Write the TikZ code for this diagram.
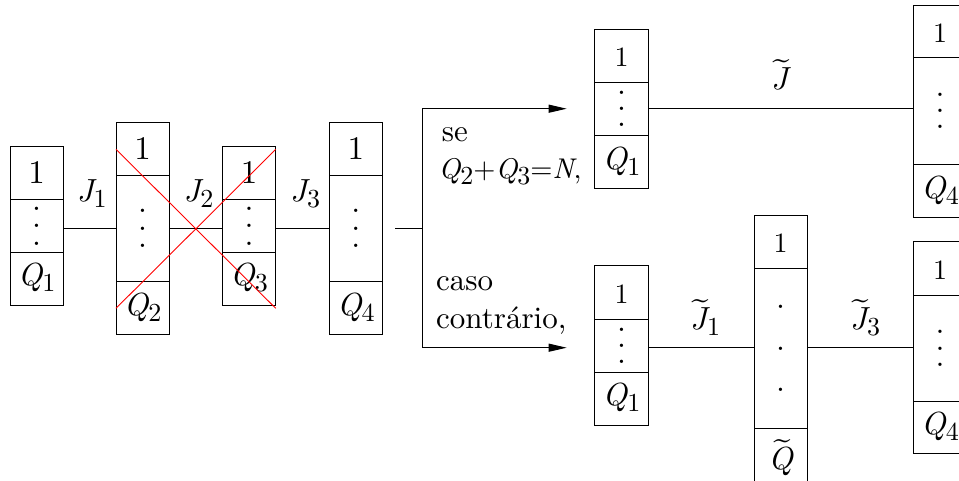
\documentclass[tikz,border=0pt]{standalone}
\usepackage{fontspec}
\setmainfont{lmroman10-regular.otf}[ItalicFont=lmroman10-italic.otf,BoldFont=lmroman10-bold.otf]
\usepackage{graphicx}
\usetikzlibrary{arrows.meta}
\newcommand\lowsub[1]{\raisebox{-6pt}{\fontsize{26}{26}\selectfont\upshape #1}}
\newcommand\mydots[1]{\vbox{\baselineskip=#1\lineskiplimit=-100pt\lineskip=0pt\hbox{.}\hbox{.}\hbox{.}}}
\newcommand\mytld[1]{\leavevmode\setbox0\hbox{#1}\setbox2\hbox{\upshape\scalebox{1.6}[1.1]{\char"02DC}}\rlap{\hbox to\wd0{\hss\kern3pt\raisebox{\dimexpr\ht0+8pt-\ht2\relax}[0pt][0pt]{\copy2}\hss}}\box0}
\begin{document}
\begin{tikzpicture}[x=1pt,y=-1pt,
  every node/.append style={font=\fontsize{32}{38}\selectfont},
  cell/.style={draw, line width=1pt, minimum width=53.3pt, inner sep=0pt},
  one/.style={font=\fontsize{33}{38}\selectfont, text height=21.4pt, text depth=0pt},
  ones/.style={font=\fontsize{28}{32}\selectfont, text height=22.6pt, text depth=0pt},
  qq/.style={font=\fontsize{32}{38}\selectfont\itshape, text height=21pt, text depth=6.4pt},
  lbl/.style={anchor=base west, inner sep=0pt},
  txt/.style={lbl, font=\fontsize{31}{36}\selectfont},
  wire/.style={line width=1pt},
  arr/.style={wire, -{Triangle[length=18pt,width=8pt]}},
  cross/.style={draw=red, line width=0.9pt}]
\useasboundingbox (0,0) rectangle (959,480);
\clip (0,0) rectangle (959,480);
% column A
\node[cell,one,minimum height=53.3pt] (A1) at (36.65,172.65) {1};
\node[cell,minimum height=53pt] (A2) at (36.65,225.8) {\mydots{17.5pt}};
\node[cell,qq,minimum height=52.7pt] (A3) at (36.65,278.65) {Q\lowsub{1}};
% column B
\node[cell,one,minimum height=53pt] (B1) at (142.65,148.8) {1};
\node[cell,minimum height=106.4pt] (B2) at (142.65,228.5) {\mydots{17.5pt}};
\node[cell,qq,minimum height=52.6pt] (B3) at (142.65,308) {Q\lowsub{2}};
% column C
\node[cell,one,minimum height=53.3pt] (C1) at (249,172.65) {1};
\node[cell,minimum height=53pt] (C2) at (249,225.8) {\mydots{17.5pt}};
\node[cell,qq,minimum height=52.7pt] (C3) at (249,278.65) {Q\lowsub{3}};
% column D
\node[cell,one,minimum height=53pt] (D1) at (355.8,148.8) {1};
\node[cell,minimum height=106.4pt] (D2) at (355.8,228.5) {\mydots{17.5pt}};
\node[cell,qq,minimum height=52.6pt] (D3) at (355.8,308) {Q\lowsub{4}};
% column E
\node[cell,ones,minimum height=53pt] (E1) at (621.5,55.5) {1};
\node[cell,minimum height=53.3pt] (E2) at (621.5,108.65) {\mydots{16.3pt}};
\node[cell,qq,minimum height=53.4pt] (E3) at (621.5,162) {Q\lowsub{1}};
% column F
\node[cell,ones,minimum height=52.7pt] (F1) at (940,31.35) {1};
\node[cell,minimum height=106.3pt] (F2) at (940,110.85) {\mydots{16.3pt}};
\node[cell,qq,minimum height=53.7pt] (F3) at (940,190.85) {Q\lowsub{4}};
% column G
\node[cell,ones,minimum height=53.3pt] (G1) at (621.5,292.35) {1};
\node[cell,minimum height=53.3pt] (G2) at (621.5,345.65) {\mydots{16.3pt}};
\node[cell,qq,minimum height=52.7pt] (G3) at (621.5,398.65) {Q\lowsub{1}};
% column H
\node[cell,ones,minimum height=53.3pt] (H1) at (780.65,241.65) {1};
\node[cell,minimum height=160pt] (H2) at (780.65,348.3) {\mydots{41.7pt}};
\node[cell,minimum height=53.3pt,text height=30pt,text depth=0pt] (H3) at (780.65,454.95) {\mytld{\itshape Q}};
% column I
\node[cell,ones,minimum height=53.3pt] (I1) at (940,268.35) {1};
\node[cell,minimum height=106.7pt] (I2) at (940,348.35) {\mydots{16.3pt}};
\node[cell,qq,minimum height=51.6pt] (I3) at (940,427.5) {Q\lowsub{4}};
% labels
\node[lbl] (J1) at (76.7,201) {\itshape J\lowsub{1}};
\node[lbl] (J2) at (183.3,201) {\itshape J\lowsub{2}};
\node[lbl] (J3) at (290,201) {\itshape J\lowsub{3}};
\node[txt] (se) at (441.7,141.7) {se};
\node[txt,font=\fontsize{28.5}{34}\selectfont] (cond) at (438.3,178) {\itshape Q\lowsub{2}\upshape+\itshape Q\lowsub{3}\upshape=\itshape N\upshape,};
\node[txt] (caso) at (436,290) {caso};
\node[txt] (contr) at (436,328.3) {contrário,};
\node[lbl] (Jt) at (771,89) {\mytld{\itshape J}};
\node[lbl] (Jt1) at (690,329) {\mytld{\itshape J}\lowsub{1}};
\node[lbl] (Jt3) at (850,329) {\mytld{\itshape J}\lowsub{3}};
% connectors
\draw[wire] (A2.east |- B2) -- (B2.west);
\draw[wire] (B2.east) -- (C2.west |- B2);
\draw[wire] (C2.east |- D2) -- (D2.west);
\coordinate (j0) at (395,228.5);
\coordinate (j) at (422,228.5);
\coordinate (ta) at (566.7,108.7);
\coordinate (tb) at (566.7,347.7);
\coordinate (lowline) at (0,347.7);
\draw[wire] (j0) -- (j);
\draw[arr] (j) |- (ta);
\draw[arr] (j) |- (tb);
\draw[wire] (E2.east) -- (F2.west |- E2);
\draw[wire] (G2.east |- lowline) -- (H2.west |- lowline);
\draw[wire] (H2.east |- lowline) -- (I2.west |- lowline);
% red cross
\coordinate (xa) at (116,149.3);
\coordinate (xb) at (275.7,308.3);
\coordinate (xc) at (116,308.3);
\coordinate (xd) at (275.7,149.3);
\draw[cross] (xa) -- (xb);
\draw[cross] (xc) -- (xd);
\end{tikzpicture}
\end{document}
